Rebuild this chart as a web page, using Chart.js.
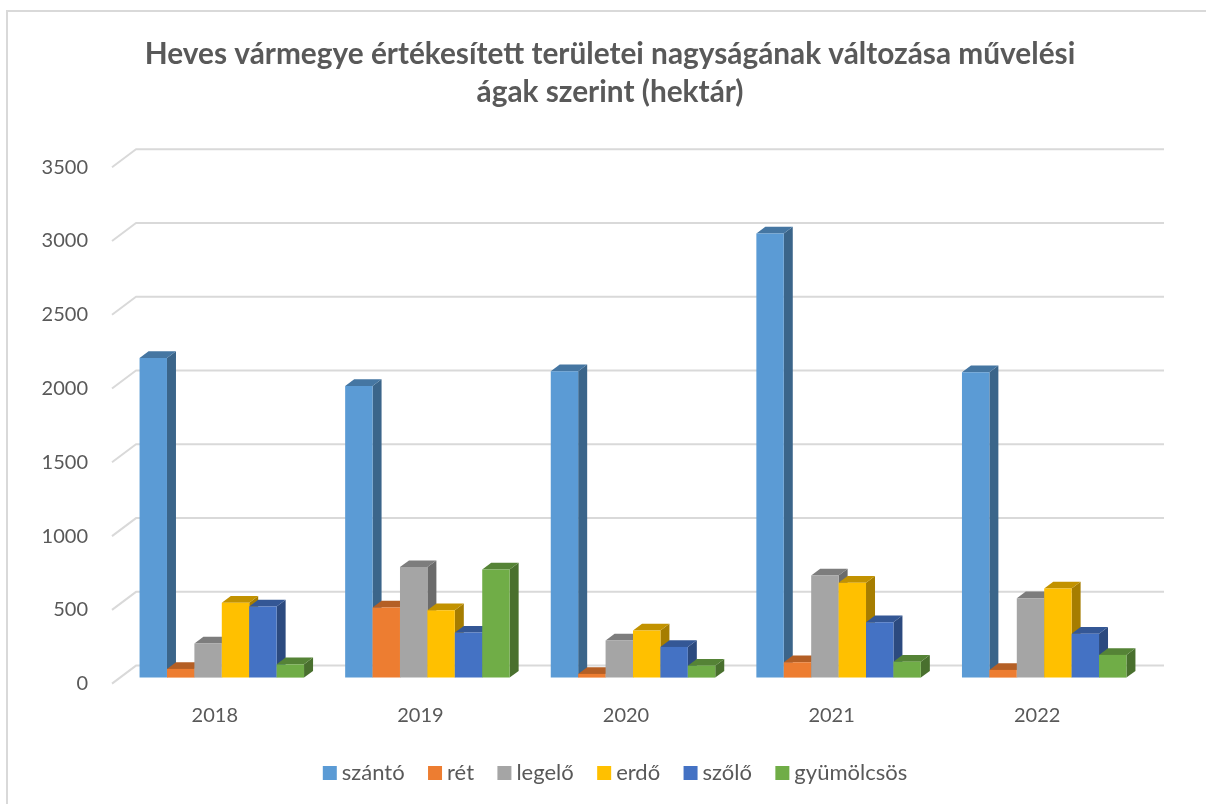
<!DOCTYPE html>
<html><head><meta charset="utf-8">
<script src="https://cdn.jsdelivr.net/npm/chart.js@4"></script>
<style>
html,body{margin:0;padding:0;background:#fff;overflow:hidden}
#wrap{position:relative;width:1206px;height:804px}
#frame{position:absolute;left:6px;top:10px;right:0;bottom:0;border-left:2px solid #d9d9d9;border-top:2px solid #d9d9d9}
canvas{position:absolute;left:0;top:0}
</style></head><body>
<div id="wrap"><div id="frame"></div><canvas id="c" width="1206" height="804"></canvas></div>
<script>
const titleLines = ['Heves vármegye értékesített területei nagyságának változása művelési','ágak szerint (hektár)'];
const years = ['2018','2019','2020','2021','2022'];
const szanto = [2167,1977,2077,3011,2070];
const ret = [59,475,25,104,52];
const legelo = [231,749,251,692,538];
const erdo = [507,457,319,643,604];
const szolo = [482,305,208,375,297];
const gyumolcsos = [90,733,81,108,154];
const seriesNames = ['szántó','rét','legelő','erdő','szőlő','gyümölcsös'];
const seriesValues = [szanto,ret,legelo,erdo,szolo,gyumolcsos];
const seriesColors = ['#5B9BD5','#ED7D31','#A5A5A5','#FFC000','#4472C4','#70AD47'];
const FONT = 'Lato';
const TXT = '#595959';
function shade(hex,f){const n=parseInt(hex.slice(1),16);
  return 'rgb('+[(n>>16)&255,(n>>8)&255,n&255].map(v=>Math.round(v*f)).join(',')+')';}
const WALL={dx:24,dy:-18}, BAR={ox:7,oy:-6,dx:9,dy:-6.7};
const threeD={id:'threeD',
  afterLayout(chart){
    chart.legend.left+=48;chart.legend.right+=48;
    chart.titleBlock.left+=40;chart.titleBlock.right+=40;
  },
  beforeDatasetsDraw(chart){
    const ctx=chart.ctx,a=chart.chartArea,y=chart.scales.y;
    ctx.save();ctx.strokeStyle='#d9d9d9';ctx.lineWidth=2;ctx.lineJoin='round';
    y.ticks.forEach(t=>{const p=y.getPixelForValue(t.value);
      ctx.beginPath();ctx.moveTo(a.left,p);ctx.lineTo(a.left+WALL.dx,p+WALL.dy);ctx.lineTo(a.right+WALL.dx,p+WALL.dy);ctx.stroke();});
    ctx.restore();
    ctx.save();ctx.translate(BAR.ox,BAR.oy);
    chart.data.datasets.forEach((ds,i)=>{
      chart.getDatasetMeta(i).data.forEach(b=>{
        const l=b.x-b.width/2,r=b.x+b.width/2,t=b.y,bt=b.base;
        ctx.fillStyle=shade(ds.backgroundColor,0.65);
        ctx.beginPath();ctx.moveTo(r,t);ctx.lineTo(r+BAR.dx,t+BAR.dy);ctx.lineTo(r+BAR.dx,bt+BAR.dy);ctx.lineTo(r,bt);ctx.closePath();ctx.fill();
        ctx.fillStyle=shade(ds.backgroundColor,0.76);
        ctx.beginPath();ctx.moveTo(l,t);ctx.lineTo(l+BAR.dx,t+BAR.dy);ctx.lineTo(r+BAR.dx,t+BAR.dy);ctx.lineTo(r,t);ctx.closePath();ctx.fill();
        b.draw(ctx);
      });
    });
    ctx.restore();
    return false;
  }};
new Chart(document.getElementById('c'),{
  type:'bar',
  data:{labels:years,datasets:seriesNames.map((n,i)=>({label:n,data:seriesValues[i],backgroundColor:seriesColors[i],borderWidth:0,barPercentage:1,categoryPercentage:0.8}))},
  plugins:[threeD],
  options:{responsive:false,animation:false,events:[],
    layout:{padding:{left:0,right:66,top:0,bottom:10}},
    scales:{
      x:{grid:{display:false},border:{display:false},ticks:{color:TXT,font:{family:FONT,size:20},padding:12,maxRotation:0},
         afterFit(s){s.height=49;}},
      y:{min:0,max:3500,grid:{display:false},border:{display:false},ticks:{stepSize:500,color:TXT,font:{family:FONT,size:20},padding:16,callback:v=>String(v)},
         afterFit(s){s.width=112;}}
    },
    plugins:{
      title:{display:true,text:titleLines,color:TXT,font:{family:FONT,size:29.8,weight:'bold',lineHeight:1.28},padding:{top:35,bottom:56}},
      legend:{position:'bottom',labels:{usePointStyle:true,pointStyle:'rect',boxWidth:2,boxHeight:14,color:TXT,font:{family:FONT,size:22},padding:29.4}},
      tooltip:{enabled:false}
    }
  }
});
</script></body></html>
